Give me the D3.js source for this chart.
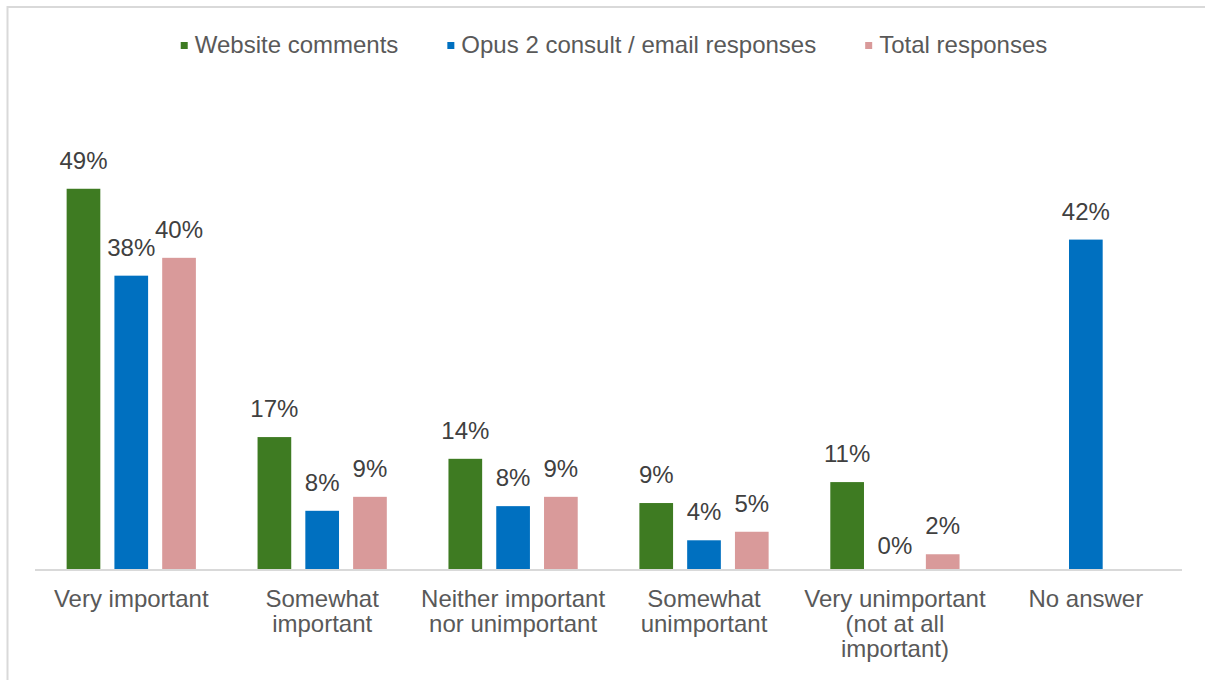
<!DOCTYPE html>
<html>
<head>
<meta charset="utf-8">
<script src="https://cdn.jsdelivr.net/npm/d3@7"></script>
<style>
  html, body { margin: 0; padding: 0; background: #ffffff; }
  svg { display: block; }
  text { font-family: "Liberation Sans", Arial, sans-serif; }
</style>
</head>
<body>
<svg id="chart" width="1205" height="680"></svg>
<script>
// ---- Data ----
const categories = [
  ["Very important"],
  ["Somewhat", "important"],
  ["Neither important", "nor unimportant"],
  ["Somewhat", "unimportant"],
  ["Very unimportant", "(not at all", "important)"],
  ["No answer"]
];
const seriesNames = ["Website comments", "Opus 2 consult / email responses", "Total responses"];
const websiteComments = [49.0, 17.0, 14.2, 8.5, 11.2, null];
const opusResponses   = [37.8, 7.5, 8.1, 3.7, 0, 42.45];
const totalResponses  = [40.1, 9.3, 9.3, 4.8, 1.9, null];
const seriesColors = ["#3E7B22", "#0070C0", "#D99A9A"];

const seriesValues = [websiteComments, opusResponses, totalResponses];

// ---- Setup ----
const W = 1205, H = 680;
const FS = 24;
const svg = d3.select("#chart");

// outer chart border (only top/left visible in frame)
svg.append("rect")
  .attr("x", 7.5).attr("y", 7).attr("width", W + 20).attr("height", H + 20)
  .attr("fill", "#ffffff").attr("stroke", "#d9d9d9").attr("stroke-width", 2);

const catIdx = categories.map((c, i) => i);
const x0 = d3.scaleBand().domain(catIdx).range([35.8, 1181.3])
  .paddingInner(0.323).paddingOuter(0.1615);
const x1 = d3.scaleBand().domain(d3.range(seriesNames.length)).range([0, x0.bandwidth()])
  .paddingInner(0.295).paddingOuter(0);
const y = d3.scaleLinear().domain([0, 60]).range([569, 569 - 60 * 7.76]);

// bars
const g = svg.append("g");
catIdx.forEach(ci => {
  seriesValues.forEach((vals, si) => {
    const v = vals[ci];
    if (v === null || v === undefined) return;
    const bx = x0(ci) + x1(si);
    if (v > 0) {
      g.append("rect")
        .attr("x", bx).attr("y", y(v))
        .attr("width", x1.bandwidth()).attr("height", y(0) - y(v))
        .attr("fill", seriesColors[si]);
    }
    g.append("text")
      .attr("x", bx + x1.bandwidth() / 2)
      .attr("y", v > 0 ? y(v) - 20 : y(0) - 15)
      .attr("text-anchor", "middle")
      .attr("font-size", FS)
      .attr("fill", "#404040")
      .text(Math.round(v) + "%");
  });
});

// axis baseline
const xAxis = d3.axisBottom(x0).tickSize(0).tickFormat("");
const ax = svg.append("g").attr("transform", "translate(0,570)").call(xAxis);
ax.select(".domain").attr("stroke", "#d9d9d9").attr("stroke-width", 2)
  .attr("d", "M35,0H1182");

// category labels
catIdx.forEach(ci => {
  const t = svg.append("text")
    .attr("x", x0(ci) + x0.bandwidth() / 2)
    .attr("y", 607)
    .attr("text-anchor", "middle")
    .attr("font-size", FS)
    .attr("fill", "#595959");
  categories[ci].forEach((line, li) => {
    t.append("tspan")
      .attr("x", x0(ci) + x0.bandwidth() / 2)
      .attr("dy", li === 0 ? 0 : 25)
      .text(line);
  });
});

// legend
const legend = svg.append("g");
const items = seriesNames.map((name, i) => {
  const it = legend.append("g");
  it.append("rect").attr("x", 0).attr("y", 42).attr("width", 7).attr("height", 7)
    .attr("fill", seriesColors[i]);
  const tx = it.append("text").attr("x", 14).attr("y", 53)
    .attr("font-size", FS).attr("fill", "#595959").text(name);
  return { g: it, w: 14 + tx.node().getComputedTextLength() };
});
const gap = 49;
const total = d3.sum(items, d => d.w) + gap * (items.length - 1);
let cx = 614 - total / 2;
items.forEach(d => {
  d.g.attr("transform", `translate(${cx},0)`);
  cx += d.w + gap;
});
</script>
</body>
</html>
